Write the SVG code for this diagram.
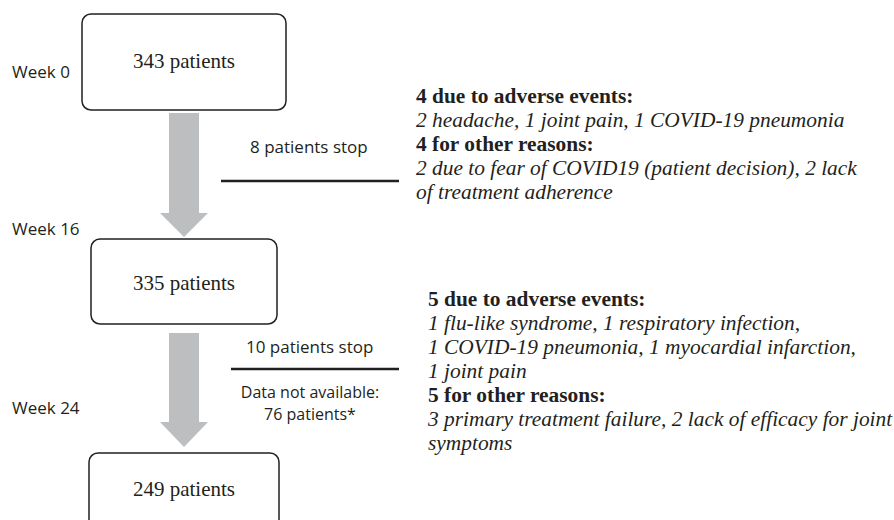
<svg xmlns="http://www.w3.org/2000/svg" width="894" height="520" viewBox="0 0 894 520">
<style>
.box{fill:#fff;stroke:#231f20;stroke-width:1.5}
.num{font-family:"Liberation Serif","Times New Roman",serif;font-size:21px;fill:#231f20;text-anchor:middle}
.sans{font-family:"Open Sans","Liberation Sans",sans-serif;font-size:17px;fill:#231f20}
.b{font-family:"Liberation Serif","Times New Roman",serif;font-size:21.4px;font-weight:bold;fill:#231f20}
.i{font-family:"Liberation Serif","Times New Roman",serif;font-size:21.4px;font-style:italic;fill:#231f20}
.arrow{fill:#bcbec0}
.line{stroke:#231f20;stroke-width:2.5}
</style>
<rect width="894" height="520" fill="#fff"/>
<g id="connectors">
<polygon class="arrow" points="169,113 199,113 199,213 208,213 184,237 160,213 169,213"/>
<polygon class="arrow" points="169,333 199,333 199,422 208,422 184,447 160,422 169,422"/>
<line class="line" x1="221" y1="181" x2="399" y2="181"/>
<line class="line" x1="231" y1="369" x2="399" y2="369"/>
</g>
<g id="week0"><rect class="box" x="82" y="14" width="204" height="96" rx="9"/><text class="num" x="184" y="68">343 patients</text></g>
<g id="week16"><rect class="box" x="91" y="239" width="186" height="85" rx="9"/><text class="num" x="184" y="290">335 patients</text></g>
<g id="week24"><rect class="box" x="89" y="453" width="190" height="90" rx="9"/><text class="num" x="184" y="496">249 patients</text></g>
<g id="labels">
<text class="sans" x="12" y="78">Week 0</text>
<text class="sans" x="12" y="235">Week 16</text>
<text class="sans" x="12" y="414">Week 24</text>
<text class="sans" x="250" y="153">8 patients stop</text>
<text class="sans" x="246" y="353">10 patients stop</text>
<text class="sans" x="310" y="398" text-anchor="middle" style="font-size:16px">Data not available:</text>
<text class="sans" x="310" y="420" text-anchor="middle" style="font-size:16px">76 patients*</text>
</g>
<g id="reasons1">
<text class="b" x="416" y="103">4 due to adverse events:</text>
<text class="i" x="416" y="127">2 headache, 1 joint pain, 1 COVID-19 pneumonia</text>
<text class="b" x="416" y="151">4 for other reasons:</text>
<text class="i" x="416" y="175">2 due to fear of COVID19 (patient decision), 2 lack</text>
<text class="i" x="416" y="199">of treatment adherence</text>
</g>
<g id="reasons2">
<text class="b" x="428" y="306">5 due to adverse events:</text>
<text class="i" x="428" y="330">1 flu-like syndrome, 1 respiratory infection,</text>
<text class="i" x="428" y="354">1 COVID-19 pneumonia, 1 myocardial infarction,</text>
<text class="i" x="428" y="378">1 joint pain</text>
<text class="b" x="428" y="402">5 for other reasons:</text>
<text class="i" x="428" y="426">3 primary treatment failure, 2 lack of efficacy for joint</text>
<text class="i" x="428" y="450">symptoms</text>
</g>
</svg>
